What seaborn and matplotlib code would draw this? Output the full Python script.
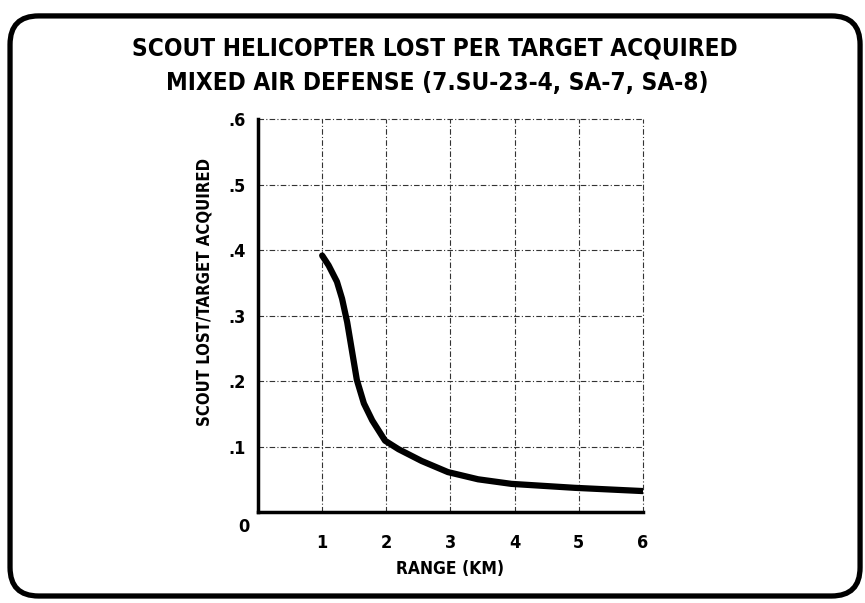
import matplotlib
matplotlib.use("Agg")
import matplotlib.pyplot as plt
import seaborn as sns
import pandas as pd
from matplotlib.patches import FancyBboxPatch

# curve
range_km = [1.0, 1.1, 1.23, 1.31, 1.39, 1.47, 1.54, 1.65, 1.78, 1.98, 2.19, 2.55, 2.96, 3.43, 3.95, 4.93, 6.0]
lost_per_target = [0.392, 0.377, 0.352, 0.326, 0.29, 0.243, 0.202, 0.166, 0.14, 0.109, 0.096, 0.078, 0.061, 0.05, 0.043, 0.037, 0.032]

x_ticks = [1, 2, 3, 4, 5, 6]
y_ticks = [0, 0.1, 0.2, 0.3, 0.4, 0.5, 0.6]
y_tick_labels = ["", ".1", ".2", ".3", ".4", ".5", ".6"]

title_1 = "SCOUT HELICOPTER LOST PER TARGET ACQUIRED"
title_2 = "MIXED AIR DEFENSE (7.SU-23-4, SA-7, SA-8)"

sns.set_style("white")
plt.rcParams['font.family'] = ['DejaVu Sans']
plt.rcParams['font.stretch'] = 'condensed'
plt.rcParams['font.weight'] = 'bold'
plt.rcParams['text.color'] = 'black'
plt.rcParams['xtick.color'] = 'black'
plt.rcParams['ytick.color'] = 'black'
plt.rcParams['axes.labelcolor'] = 'black'

df = pd.DataFrame({"range": range_km, "lost": lost_per_target})

fig = plt.figure(figsize=(8.65, 6.03), dpi=100)
ax = fig.add_axes([0.2983, 0.1509, 0.445, 0.651])

sns.lineplot(data=df, x="range", y="lost", color="black", linewidth=4.5, ax=ax,
             solid_joinstyle='round', solid_capstyle='round')

ax.set_xlim(0, 6)
ax.set_ylim(0, 0.6)
ax.set_xticks(x_ticks)
ax.set_xticklabels([str(t) for t in x_ticks], fontsize=13, fontweight='bold')
ax.set_yticks(y_ticks)
ax.set_yticklabels(y_tick_labels, fontsize=13, fontweight='bold')
ax.tick_params(axis='x', direction='out', length=8.5, width=1.8, pad=7)
ax.tick_params(axis='y', direction='out', length=8, width=1.5, pad=1)

ax.grid(True, color='#333333', linewidth=0.8, linestyle=(0, (5, 2, 1, 2)))
# keep the grid lines on the plot edge (x=6, y=.6) whole
for gl in ax.get_xgridlines() + ax.get_ygridlines():
    gl.set_clip_on(False)
for side in ['top', 'right']:
    ax.spines[side].set_visible(False)
for side in ['left', 'bottom']:
    ax.spines[side].set_linewidth(2.5)
    ax.spines[side].set_color('black')

# the zero sits below the corner, not beside the tick
ax.text(-0.036, -0.038, "0", transform=ax.transAxes, ha='center', va='center',
        fontsize=13, fontweight='bold')

ax.set_xlabel("RANGE (KM)", fontsize=12.5, fontweight='bold', labelpad=6)
ax.set_ylabel("SCOUT LOST/TARGET ACQUIRED", fontsize=12, fontweight='bold')
ax.yaxis.set_label_coords(-0.115, 0.56)

fig.text(0.503, 0.908, title_1, ha='center', va='baseline', fontsize=17.5, fontweight='bold')
fig.text(0.506, 0.8507, title_2, ha='center', va='baseline', fontsize=17.5, fontweight='bold')

# rounded frame around the slide
frame = FancyBboxPatch((0.0116, 0.0116), 0.9827, 0.962,
                       boxstyle="round,pad=0,rounding_size=0.033", mutation_aspect=865 / 603,
                       transform=fig.transFigure, fill=False, edgecolor='black', linewidth=3.8)
fig.patches.append(frame)

fig.savefig("out.png", dpi=100, facecolor='white')
